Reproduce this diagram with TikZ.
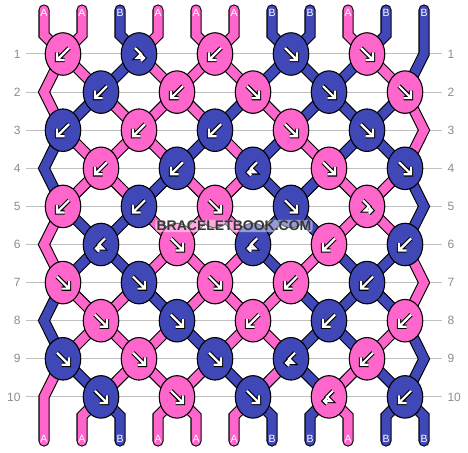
\documentclass[tikz,border=0pt]{standalone}
\usepackage{fontspec}
\setmainfont{Liberation Sans}
\usetikzlibrary{shapes.geometric}
\pgfdeclarelayer{grid}
\pgfdeclarelayer{sout}
\pgfdeclarelayer{sfill}
\pgfsetlayers{grid,sout,sfill,main}
\definecolor{pk}{RGB}{255,102,204}
\definecolor{bl}{RGB}{64,72,184}
\colorlet{c0}{pk}
\colorlet{c1}{bl}
\definecolor{gridc}{RGB}{192,192,192}
\definecolor{numc}{RGB}{140,140,140}
\definecolor{wmc}{RGB}{55,55,55}
\def\cols{{0,0,1,0,0,0,1,1,0,1,1,%
0,0,1,0,0,0,1,1,1,0,1,%
0,1,0,0,0,1,0,1,1,1,0,%
1,0,0,0,1,0,1,0,1,1,0,%
1,0,0,1,0,0,1,1,0,0,1,%
0,1,1,0,0,0,1,1,0,0,1,%
0,1,1,0,0,0,1,0,1,1,0,%
1,0,0,1,0,0,0,1,1,1,0,%
1,0,0,0,1,0,0,1,1,0,1,%
0,1,0,0,0,1,0,1,0,1,1,%
0,0,1,0,0,0,1,1,0,1,1}}
\newcommand\bstrand[2]{%
 \begin{pgfonlayer}{sout}\draw[line width=11.2pt,black,line cap=round,line join=miter] #2;\end{pgfonlayer}%
 \begin{pgfonlayer}{sfill}\draw[line width=9pt,c#1,line cap=round,line join=miter] #2;\end{pgfonlayer}}
\begin{document}
\begin{tikzpicture}[x=1pt,y=-1pt,
 knot/.style={ellipse,draw=black,line width=1.1pt,minimum width=35.5pt,minimum height=42.5pt,inner sep=0pt},
 rownum/.style={text=numc,font=\fontsize{12}{12}\selectfont},
 endlbl/.style={text=white,font=\fontsize{10.5}{10.5}\selectfont,inner sep=0pt},
 wm/.style={font=\bfseries\fontsize{14}{14}\selectfont,inner sep=1.2pt,fill=white,fill opacity=0.45,text opacity=1,rounded corners=3pt},
 arrout/.style={line width=4.4pt,black,line join=miter},
 arrin/.style={line width=2.2pt,white,line join=miter}]
\useasboundingbox (0,0) rectangle (468,452);
% knots and arrows
\foreach \r/\k/\kc/\ks/\kh in {
1/1/pk/-1/0, 1/2/bl/1/1, 1/3/pk/-1/0, 1/4/bl/1/0, 1/5/pk/1/0,
2/1/bl/-1/0, 2/2/pk/-1/0, 2/3/pk/1/0, 2/4/bl/1/0, 2/5/pk/1/0,
3/1/bl/-1/0, 3/2/pk/-1/0, 3/3/bl/-1/0, 3/4/pk/1/0, 3/5/bl/1/0,
4/1/pk/-1/0, 4/2/bl/-1/0, 4/3/bl/-1/1, 4/4/pk/1/0, 4/5/bl/1/0,
5/1/pk/-1/0, 5/2/bl/-1/0, 5/3/pk/1/0, 5/4/bl/1/0, 5/5/pk/1/1,
6/1/bl/-1/1, 6/2/pk/1/0, 6/3/bl/-1/1, 6/4/pk/-1/0, 6/5/bl/-1/0,
7/1/pk/1/0, 7/2/bl/1/0, 7/3/pk/1/0, 7/4/pk/-1/0, 7/5/bl/-1/0,
8/1/pk/1/0, 8/2/bl/1/0, 8/3/pk/-1/0, 8/4/bl/-1/0, 8/5/pk/-1/0,
9/1/bl/1/0, 9/2/pk/1/0, 9/3/bl/1/0, 9/4/bl/-1/1, 9/5/pk/-1/0,
10/1/bl/1/0, 10/2/pk/1/0, 10/3/bl/1/0, 10/4/pk/-1/1, 10/5/bl/-1/0}{
 \pgfmathsetmacro\kx{63+76*(\k-1)+38*(1-mod(\r,2))}
 \pgfmathsetmacro\ky{54+38.1*(\r-1)}
 \node[knot,fill=\kc] (k\r-\k) at (\kx,\ky) {};
 \begin{scope}[shift={(k\r-\k.center)},xscale=\ks]
  \ifnum\kh=0
   \draw[arrout] (-6,-6)--(6,6) (6,-1.5)--(6,6)--(-1.5,6);
   \draw[arrin] (-6,-6)--(6,6) (6,-1.5)--(6,6)--(-1.5,6);
  \else
   \draw[arrout] (-4,-6)--(2,0)--(-2,4)--(5,4) (2,1)--(5,4)--(2,7);
   \draw[arrin] (-4,-6)--(2,0)--(-2,4)--(5,4) (2,1)--(5,4)--(2,7);
  \fi
 \end{scope}
}
% grid lines and row numbers
\foreach \r in {1,...,10}{
 \pgfmathsetmacro\ky{54+38.1*(\r-1)}
 \begin{pgfonlayer}{grid}\draw[gridc,line width=1pt] (26,\ky)--(442,\ky);\end{pgfonlayer}
 \node[rownum,anchor=east] (nl\r) at (24,\ky) {\r};
 \node[rownum,anchor=west] (nr\r) at (444,\ky) {\r};
}
% strands between rows
\foreach \r in {1,...,9}{
 \pgfmathtruncatemacro\rr{\r+1}
 \foreach \p in {2,...,10}{
  \pgfmathtruncatemacro\ka{floor((\p+mod(\r,2))/2)}
  \pgfmathtruncatemacro\kb{floor((\p+mod(\rr,2))/2)}
  \pgfmathtruncatemacro\cc{\cols[\r*11+\p-1]}
  \bstrand{\cc}{(k\r-\ka.center)--(k\rr-\kb.center)}
 }
}
% top strands
\foreach \p in {1,...,10}{
 \pgfmathsetmacro\xp{44+38*(\p-1)}
 \pgfmathtruncatemacro\ka{floor((\p+1)/2)}
 \pgfmathtruncatemacro\cc{\cols[\p-1]}
 \bstrand{\cc}{(\xp,10)--(\xp,35)--(k1-\ka.center)}
}
% bottom strands
\foreach \p in {2,...,11}{
 \pgfmathsetmacro\xp{44+38*(\p-1)}
 \pgfmathtruncatemacro\kb{floor(\p/2)}
 \pgfmathtruncatemacro\cc{\cols[110+\p-1]}
 \bstrand{\cc}{(k10-\kb.center)--(\xp,416)--(\xp,441)}
}
% left passing strands
\foreach \r in {2,4,6,8}{
 \pgfmathtruncatemacro\rm{\r-1}
 \pgfmathtruncatemacro\rp{\r+1}
 \pgfmathsetmacro\ky{54+38.1*(\r-1)}
 \pgfmathtruncatemacro\cc{\cols[(\r-1)*11]}
 \bstrand{\cc}{(k\rm-1.center)--(44,\ky)--(k\rp-1.center)}
}
\bstrand{0}{(k9-1.center)--(44,396.9)--(44,441)}
% right passing strands
\foreach \r in {3,5,7,9}{
 \pgfmathtruncatemacro\rm{\r-1}
 \pgfmathtruncatemacro\rp{\r+1}
 \pgfmathsetmacro\ky{54+38.1*(\r-1)}
 \pgfmathtruncatemacro\cc{\cols[(\r-1)*11+10]}
 \bstrand{\cc}{(k\rm-5.center)--(424,\ky)--(k\rp-5.center)}
}
\bstrand{1}{(424,10)--(424,54)--(k2-5.center)}
% end labels
\foreach \p/\l in {1/A,2/A,3/B,4/A,5/A,6/A,7/B,8/B,9/A,10/B,11/B}{
 \pgfmathsetmacro\xp{44+38*(\p-1)}
 \node[endlbl] (t\p) at (\xp,13) {\l};
 \node[endlbl] (b\p) at (\xp,439) {\l};
}
% watermark
\node[wm,text=wmc] (wm) at (234,226) {BRACELETBOOK.COM};
\end{tikzpicture}
\end{document}
